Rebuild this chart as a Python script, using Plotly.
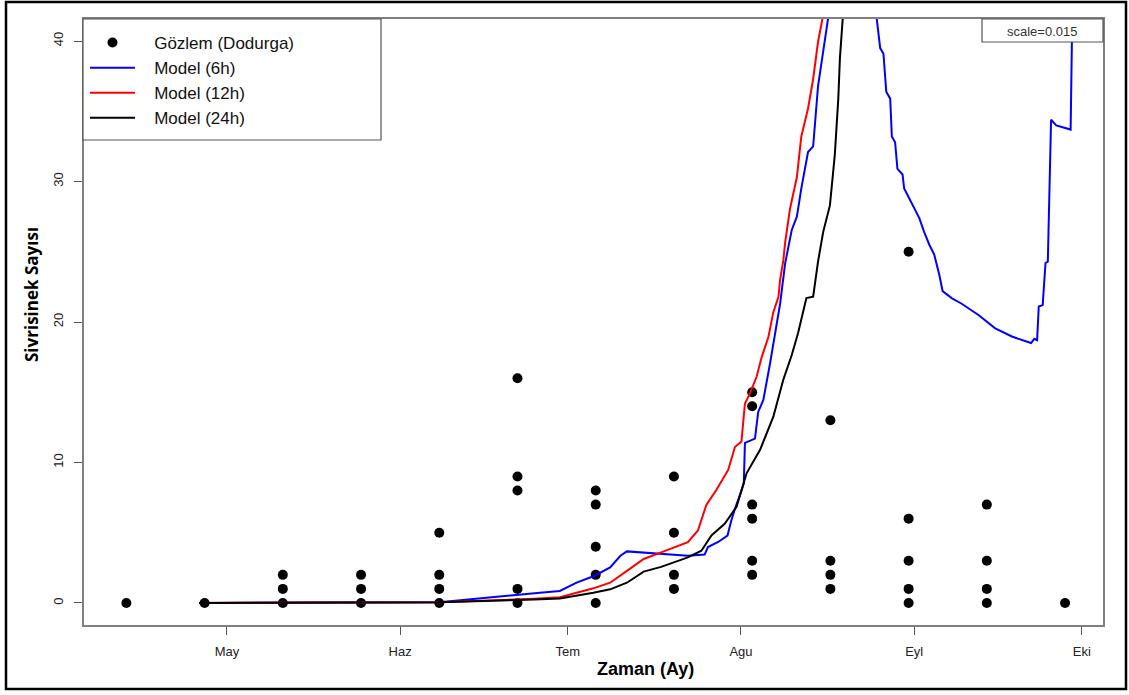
import plotly.graph_objects as go

# ---------------- data ----------------
obs_dates = (["2018-04-13"] + ["2018-04-27"] +
             ["2018-05-11"] * 3 + ["2018-05-25"] * 3 +
             ["2018-06-08"] * 4 + ["2018-06-22"] * 5 +
             ["2018-07-06"] * 5 + ["2018-07-20"] * 4 +
             ["2018-08-03"] * 6 + ["2018-08-17"] * 4 +
             ["2018-08-31"] * 5 + ["2018-09-14"] * 4 +
             ["2018-09-28"])
obs_values = ([0] + [0] +
              [0, 1, 2] + [0, 1, 2] +
              [0, 1, 2, 5] + [0, 1, 8, 9, 16] +
              [0, 2, 4, 7, 8] + [1, 2, 5, 9] +
              [2, 3, 6, 7, 14, 15] + [1, 2, 3, 13] +
              [0, 1, 3, 6, 25] + [0, 1, 3, 7] +
              [0])

m6_dates = ["2018-04-26", "2018-05-15", "2018-06-08", "2018-06-26", "2018-06-29 14:00",
            "2018-07-02 14:00", "2018-07-05 17:00", "2018-07-08 14:00", "2018-07-10 10:00",
            "2018-07-11 14:00", "2018-07-17 02:00", "2018-07-22 12:00", "2018-07-25 12:00",
            "2018-07-26 02:00", "2018-07-27 22:00", "2018-07-29 14:00", "2018-07-30 07:00",
            "2018-07-30 22:00", "2018-08-01 02:00", "2018-08-01 12:00", "2018-08-01 17:00",
            "2018-08-03 12:00", "2018-08-04 02:00", "2018-08-05 00:00", "2018-08-06 05:00",
            "2018-08-07 02:00", "2018-08-08 00:00", "2018-08-08 22:00", "2018-08-10 02:00",
            "2018-08-11 00:00", "2018-08-11 19:00", "2018-08-13 00:00", "2018-08-13 22:00",
            "2018-08-14 19:00", "2018-08-16 00:00", "2018-08-16 14:00", "2018-08-20 12:00",
            "2018-08-25 07:00", "2018-08-25 22:00", "2018-08-26 12:00", "2018-08-27 00:00",
            "2018-08-27 17:00", "2018-08-28 00:00", "2018-08-28 14:00", "2018-08-29 00:00",
            "2018-08-29 22:00", "2018-08-30 05:00", "2018-08-31 02:00", "2018-09-01 00:00",
            "2018-09-01 22:00", "2018-09-02 19:00", "2018-09-03 17:00", "2018-09-04 14:00",
            "2018-09-05 12:00", "2018-09-06 02:00", "2018-09-07 17:00", "2018-09-09 12:00",
            "2018-09-12 12:00", "2018-09-15 12:00", "2018-09-18 14:00", "2018-09-21 22:00",
            "2018-09-22 12:00", "2018-09-23 00:00", "2018-09-23 07:00", "2018-09-24 00:00",
            "2018-09-24 12:00", "2018-09-24 22:00", "2018-09-25 12:00", "2018-09-26 10:00",
            "2018-09-29 00:00", "2018-09-29 05:00", "2018-09-29 12:00"]
m6_values = [0, 0.01, 0.05, 0.73, 0.85,
             1.45, 1.92, 2.53, 3.36,
             3.67, 3.53, 3.36, 3.44,
             3.98, 4.34, 4.8, 5.9,
             6.7, 8.0, 8.5, 11.4,
             11.7, 13.6, 14.45, 17.06,
             19.2, 21.3, 24.2, 26.55,
             27.5, 29.5, 32.1, 32.5,
             36.8, 40.07, 41.6, 50,
             41.6, 39.5, 39.1, 36.4,
             35.9, 33.2, 32.8, 30.9,
             30.5, 29.5, 28.8, 28.1,
             27.4, 26.4, 25.5, 24.8,
             23.35, 22.2, 21.7, 21.3,
             20.5, 19.55, 18.95, 18.5,
             18.8, 18.7, 21.1, 21.2,
             24.2, 24.3, 34.4, 34.0,
             33.7, 39.5, 45]

m12_dates = ["2018-04-26", "2018-05-15", "2018-06-08", "2018-06-25", "2018-06-29 14:00",
             "2018-07-05 14:00", "2018-07-08 14:00", "2018-07-11 14:00", "2018-07-14 14:00",
             "2018-07-17 17:00", "2018-07-22 12:00", "2018-07-24 07:00", "2018-07-25 19:00",
             "2018-07-27 14:00", "2018-07-29 17:00", "2018-07-30 22:00", "2018-08-01 02:00",
             "2018-08-01 17:00", "2018-08-02 14:00", "2018-08-03 19:00", "2018-08-04 17:00",
             "2018-08-05 22:00", "2018-08-06 19:00", "2018-08-07 17:00", "2018-08-08 00:00",
             "2018-08-08 14:00", "2018-08-08 22:00", "2018-08-09 19:00", "2018-08-11 00:00",
             "2018-08-11 19:00", "2018-08-13 00:00", "2018-08-13 22:00", "2018-08-14 19:00",
             "2018-08-15 14:00", "2018-08-18 00:00"]
m12_values = [0, 0.01, 0.05, 0.3, 0.4,
              1.04, 1.44, 2.28, 3.13,
              3.6, 4.32, 5.16, 6.97,
              8.04, 9.47, 11.1, 11.5,
              14.2, 14.9, 16.1, 17.5,
              18.95, 20.7, 21.8, 23.0,
              24.4, 25.7, 28.1, 30.3,
              33.2, 35.2, 37.3, 39.95,
              41.6, 50]

m24_dates = ["2018-04-26", "2018-05-15", "2018-06-08", "2018-06-25", "2018-06-29 14:00",
             "2018-07-05 14:00", "2018-07-08 14:00", "2018-07-11 14:00", "2018-07-14 14:00",
             "2018-07-17 17:00", "2018-07-22 12:00", "2018-07-24 22:00", "2018-07-26 17:00",
             "2018-07-29 02:00", "2018-07-31 05:00", "2018-08-02 00:00", "2018-08-04 10:00",
             "2018-08-06 19:00", "2018-08-08 14:00", "2018-08-10 02:00", "2018-08-11 05:00",
             "2018-08-12 17:00", "2018-08-13 22:00", "2018-08-14 19:00", "2018-08-15 17:00",
             "2018-08-16 22:00", "2018-08-17 19:00", "2018-08-18 10:00", "2018-08-18 17:00",
             "2018-08-19 05:00", "2018-08-21 00:00"]
m24_values = [0, 0.01, 0.05, 0.25, 0.32,
              0.73, 0.97, 1.44, 2.23,
              2.57, 3.24, 3.72, 4.8,
              5.64, 6.85, 9.23, 10.9,
              13.26, 15.9, 17.65, 19.2,
              21.7, 21.8, 24.3, 26.4,
              28.3, 31.9, 35.9, 38.8,
              41.6, 55]

month_ticks = ["2018-05-01", "2018-06-01", "2018-07-01", "2018-08-01", "2018-09-01", "2018-10-01"]
month_labels = ["May", "Haz", "Tem", "Agu", "Eyl", "Eki"]
y_ticks = [0, 10, 20, 30, 40]

# ---------------- layout helpers ----------------
W, H = 1129, 695
L, R, T, B = 84, 1103, 19, 625  # plot area in pixels


def px(x):
    return (x - L) / (R - L)


def py(y):
    return (B - y) / (B - T)


pad = "&nbsp;&nbsp;&nbsp;"
fig = go.Figure()
fig.add_trace(go.Scatter(x=obs_dates, y=obs_values, mode="markers",
                         marker=dict(color="black", size=10),
                         name=pad + "Gözlem (Dodurga)", cliponaxis=False))
fig.add_trace(go.Scatter(x=m6_dates, y=m6_values, mode="lines",
                         line=dict(color="#0000FF", width=2), name=pad + "Model (6h)"))
fig.add_trace(go.Scatter(x=m12_dates, y=m12_values, mode="lines",
                         line=dict(color="#FF0000", width=2), name=pad + "Model (12h)"))
fig.add_trace(go.Scatter(x=m24_dates, y=m24_values, mode="lines",
                         line=dict(color="#000000", width=2), name=pad + "Model (24h)"))

axis_font = dict(family="Liberation Sans Narrow, Arial Narrow, Arial", size=13, color="#222")

fig.update_layout(
    width=W, height=H,
    margin=dict(l=L, r=W - R, t=T, b=H - B),
    paper_bgcolor="white", plot_bgcolor="white",
    showlegend=True,
    legend=dict(x=px(85), y=py(25), xanchor="left", yanchor="top",
                bgcolor="rgba(0,0,0,0)", borderwidth=0,
                font=dict(family="Liberation Sans, Arial", size=17, color="#111"),
                itemwidth=45, tracegroupgap=0),
    xaxis=dict(type="date", range=["2018-04-05 10:00", "2018-10-04 19:00"],
               tickvals=month_ticks, ticktext=month_labels,
               ticks="outside", ticklen=8, tickwidth=1, tickcolor="#555",
               showgrid=False, zeroline=False,
               showline=True, mirror=True, linecolor="#808080", linewidth=1.5,
               tickfont=axis_font, ticklabelstandoff=6),
    yaxis=dict(range=[-1.57, 41.57], tickvals=y_ticks,
               ticks="outside", ticklen=8, tickwidth=1, tickcolor="#555",
               showgrid=False, zeroline=False,
               showline=True, mirror=True, linecolor="#808080", linewidth=1.5,
               tickangle=-90, tickfont=axis_font, ticklabelstandoff=6),
)

shapes = [
    # legend box
    dict(type="rect", xref="paper", yref="paper", x0=px(83), x1=px(381), y0=py(140), y1=py(19),
         line=dict(color="#555", width=1.2), fillcolor="white", layer="above"),
    # scale box
    dict(type="rect", xref="paper", yref="paper", x0=px(982), x1=px(1103), y0=py(42), y1=py(19),
         line=dict(color="#555", width=1.2), fillcolor="white", layer="above"),
    # outer frame
    dict(type="rect", xref="paper", yref="paper", x0=px(6), x1=px(1126), y0=py(689), y1=py(2),
         line=dict(color="black", width=2.5), fillcolor="rgba(0,0,0,0)", layer="above"),
]
fig.update_layout(shapes=shapes)

fig.add_annotation(xref="paper", yref="paper", x=px(1042), y=py(31), text="scale=0.015",
                   xanchor="center", yanchor="middle", showarrow=False,
                   font=dict(family="Liberation Sans, Arial", size=13, color="#333"))
fig.add_annotation(xref="paper", yref="paper", x=px(645), y=py(669), text="<b>Zaman (Ay)</b>",
                   xanchor="center", yanchor="middle", showarrow=False,
                   font=dict(family="Liberation Sans Narrow, Arial Narrow, Arial",
                             size=18, color="black"))
fig.add_annotation(xref="paper", yref="paper", x=px(31), y=py(295), text="<b>Sivrisinek Sayısı</b>",
                   xanchor="center", yanchor="middle", textangle=-90, showarrow=False,
                   font=dict(family="Open Sans, Arial", size=17, color="black"))

fig.write_html("out.html", config={"displayModeBar": False},
               post_script="document.body.style.margin='0px';")
